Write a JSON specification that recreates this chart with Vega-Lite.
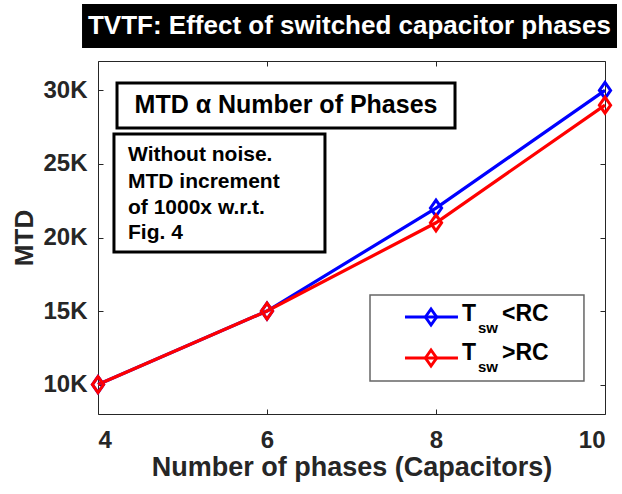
{
  "$schema": "https://vega.github.io/schema/vega-lite/v6.json",
  "width": 507,
  "height": 353,
  "autosize": {"type": "none"},
  "padding": {"left": 98, "top": 61, "right": 17, "bottom": 80},
  "background": "white",
  "config": {
    "view": {"stroke": null},
    "axis": {
      "grid": false,
      "domainColor": "#262626",
      "domainWidth": 1,
      "tickColor": "#262626",
      "tickWidth": 1,
      "labelColor": "#262626",
      "titleColor": "#262626",
      "labelFont": "Liberation Sans",
      "titleFont": "Liberation Sans",
      "labelFontWeight": "bold",
      "titleFontWeight": "bold",
      "labelFontSize": 24,
      "titleFontSize": 26
    }
  },
  "datasets": {
    "main": [
      {"phases": 4, "MTD": 10000, "series": "Tsw<RC"},
      {"phases": 6, "MTD": 15000, "series": "Tsw<RC"},
      {"phases": 8, "MTD": 22000, "series": "Tsw<RC"},
      {"phases": 10, "MTD": 30000, "series": "Tsw<RC"},
      {"phases": 4, "MTD": 10000, "series": "Tsw>RC"},
      {"phases": 6, "MTD": 15000, "series": "Tsw>RC"},
      {"phases": 8, "MTD": 21000, "series": "Tsw>RC"},
      {"phases": 10, "MTD": 29000, "series": "Tsw>RC"}
    ],
    "boxes": [
      {"box": "title", "x": 3.811, "x2": 10.142, "y": 35875, "y2": 32884},
      {"box": "mtd", "x": 4.225, "x2": 8.225, "y": 30504, "y2": 27445},
      {"box": "note", "x": 4.189, "x2": 6.686, "y": 27037, "y2": 19014},
      {"box": "legend", "x": 7.219, "x2": 9.751, "y": 16090, "y2": 10243}
    ],
    "labels": [
      {"box": "title", "t": "TVTF: Effect of switched capacitor phases", "x": 6.976, "y": 34380},
      {"box": "mtd", "t": "MTD α Number of Phases", "x": 6.225, "y": 29008}
    ],
    "note": [
      {"t": "Without noise.", "x": 4.355, "y": 25609},
      {"t": "MTD increment", "x": 4.355, "y": 23773},
      {"t": "of 1000x w.r.t.", "x": 4.355, "y": 22005},
      {"t": "Fig. 4", "x": 4.355, "y": 20306}
    ],
    "legendRows": [
      {"series": "Tsw<RC", "x": 7.633, "x2": 8.26, "xm": 7.941, "y": 14595},
      {"series": "Tsw>RC", "x": 7.633, "x2": 8.26, "xm": 7.941, "y": 11807}
    ],
    "legendText": [
      {"t": "T", "part": "main", "x": 8.308, "y": 14798},
      {"t": "sw", "part": "sub", "x": 8.497, "y": 14798},
      {"t": "<RC", "part": "main", "x": 8.781, "y": 14798},
      {"t": "T", "part": "main", "x": 8.308, "y": 12147},
      {"t": "sw", "part": "sub", "x": 8.497, "y": 12147},
      {"t": ">RC", "part": "main", "x": 8.781, "y": 12147}
    ]
  },
  "resolve": {"axis": {"x": "independent", "y": "independent"}},
  "layer": [
    {
      "data": {"name": "main"},
      "mark": {"type": "line", "strokeWidth": 3.2},
      "encoding": {
        "x": {"field": "phases", "type": "quantitative",
          "scale": {"domain": [4, 10], "nice": false, "zero": false},
          "axis": {"orient": "bottom", "values": [4, 6, 8, 10], "title": "Number of phases (Capacitors)", "titleFontSize": 27, "tickSize": -5, "labelPadding": 19, "titlePadding": 2}},
        "y": {"field": "MTD", "type": "quantitative",
          "scale": {"domain": [8000, 32000], "nice": false, "zero": false},
          "axis": {"orient": "left", "values": [10000, 15000, 20000, 25000, 30000], "labelExpr": "datum.value/1000 + 'K'", "title": "MTD", "tickSize": -5, "labelPadding": 16, "titlePadding": 5}},
        "color": {"field": "series", "type": "nominal",
          "scale": {"domain": ["Tsw<RC", "Tsw>RC"], "range": ["#0000ff", "#ff0000"]}, "legend": null}
      }
    },
    {
      "data": {"name": "main"},
      "mark": {"type": "point", "shape": "M-0.7,0L0,-1L0.7,0L0,1Z", "filled": false, "size": 256, "strokeWidth": 3, "opacity": 1},
      "encoding": {
        "x": {"field": "phases", "type": "quantitative", "scale": {"domain": [4, 10], "nice": false, "zero": false},
          "axis": {"orient": "top", "values": [4, 6, 8, 10], "labels": false, "title": null, "tickSize": -5}},
        "y": {"field": "MTD", "type": "quantitative", "scale": {"domain": [8000, 32000], "nice": false, "zero": false},
          "axis": {"orient": "right", "values": [10000, 15000, 20000, 25000, 30000], "labels": false, "title": null, "tickSize": -5}},
        "color": {"field": "series", "type": "nominal", "legend": null}
      }
    },
    {
      "data": {"name": "boxes"},
      "transform": [{"filter": "datum.box === 'title'"}],
      "mark": {"type": "rect", "fill": "black"},
      "encoding": {
        "x": {"field": "x", "type": "quantitative", "axis": null, "scale": {"domain": [4, 10], "nice": false, "zero": false}},
        "x2": {"field": "x2"},
        "y": {"field": "y", "type": "quantitative", "axis": null, "scale": {"domain": [8000, 32000], "nice": false, "zero": false}},
        "y2": {"field": "y2"}
      }
    },
    {
      "data": {"name": "boxes"},
      "transform": [{"filter": "datum.box === 'mtd' || datum.box === 'note'"}],
      "mark": {"type": "rect", "fill": "white", "stroke": "black", "strokeWidth": 3},
      "encoding": {
        "x": {"field": "x", "type": "quantitative", "axis": null, "scale": {"domain": [4, 10], "nice": false, "zero": false}},
        "x2": {"field": "x2"},
        "y": {"field": "y", "type": "quantitative", "axis": null, "scale": {"domain": [8000, 32000], "nice": false, "zero": false}},
        "y2": {"field": "y2"}
      }
    },
    {
      "data": {"name": "boxes"},
      "transform": [{"filter": "datum.box === 'legend'"}],
      "mark": {"type": "rect", "fill": "white", "stroke": "#666666", "strokeWidth": 1.5},
      "encoding": {
        "x": {"field": "x", "type": "quantitative", "axis": null, "scale": {"domain": [4, 10], "nice": false, "zero": false}},
        "x2": {"field": "x2"},
        "y": {"field": "y", "type": "quantitative", "axis": null, "scale": {"domain": [8000, 32000], "nice": false, "zero": false}},
        "y2": {"field": "y2"}
      }
    },
    {
      "data": {"name": "labels"},
      "transform": [{"filter": "datum.box === 'title'"}],
      "mark": {"type": "text", "font": "Liberation Sans", "fontWeight": "bold", "fontSize": 26, "color": "white", "align": "center", "baseline": "middle"},
      "encoding": {
        "x": {"field": "x", "type": "quantitative", "axis": null, "scale": {"domain": [4, 10], "nice": false, "zero": false}},
        "y": {"field": "y", "type": "quantitative", "axis": null, "scale": {"domain": [8000, 32000], "nice": false, "zero": false}},
        "text": {"field": "t"}
      }
    },
    {
      "data": {"name": "labels"},
      "transform": [{"filter": "datum.box === 'mtd'"}],
      "mark": {"type": "text", "font": "Liberation Sans", "fontWeight": "bold", "fontSize": 25, "color": "black", "align": "center", "baseline": "middle"},
      "encoding": {
        "x": {"field": "x", "type": "quantitative", "axis": null, "scale": {"domain": [4, 10], "nice": false, "zero": false}},
        "y": {"field": "y", "type": "quantitative", "axis": null, "scale": {"domain": [8000, 32000], "nice": false, "zero": false}},
        "text": {"field": "t"}
      }
    },
    {
      "data": {"name": "note"},
      "mark": {"type": "text", "font": "Liberation Sans", "fontWeight": "bold", "fontSize": 21, "color": "black", "align": "left", "baseline": "middle"},
      "encoding": {
        "x": {"field": "x", "type": "quantitative", "axis": null, "scale": {"domain": [4, 10], "nice": false, "zero": false}},
        "y": {"field": "y", "type": "quantitative", "axis": null, "scale": {"domain": [8000, 32000], "nice": false, "zero": false}},
        "text": {"field": "t"}
      }
    },
    {
      "data": {"name": "legendRows"},
      "mark": {"type": "rule", "strokeWidth": 3},
      "encoding": {
        "x": {"field": "x", "type": "quantitative", "axis": null, "scale": {"domain": [4, 10], "nice": false, "zero": false}},
        "x2": {"field": "x2"},
        "y": {"field": "y", "type": "quantitative", "axis": null, "scale": {"domain": [8000, 32000], "nice": false, "zero": false}},
        "color": {"field": "series", "type": "nominal", "legend": null}
      }
    },
    {
      "data": {"name": "legendRows"},
      "mark": {"type": "point", "shape": "M-0.7,0L0,-1L0.7,0L0,1Z", "filled": false, "size": 256, "strokeWidth": 3, "opacity": 1},
      "encoding": {
        "x": {"field": "xm", "type": "quantitative", "axis": null, "scale": {"domain": [4, 10], "nice": false, "zero": false}},
        "y": {"field": "y", "type": "quantitative", "axis": null, "scale": {"domain": [8000, 32000], "nice": false, "zero": false}},
        "color": {"field": "series", "type": "nominal", "legend": null}
      }
    },
    {
      "data": {"name": "legendText"},
      "transform": [{"filter": "datum.part === 'main'"}],
      "mark": {"type": "text", "font": "Liberation Sans", "fontWeight": "bold", "fontSize": 23, "color": "black", "align": "left", "baseline": "middle"},
      "encoding": {
        "x": {"field": "x", "type": "quantitative", "axis": null, "scale": {"domain": [4, 10], "nice": false, "zero": false}},
        "y": {"field": "y", "type": "quantitative", "axis": null, "scale": {"domain": [8000, 32000], "nice": false, "zero": false}},
        "text": {"field": "t"}
      }
    },
    {
      "data": {"name": "legendText"},
      "transform": [{"filter": "datum.part === 'sub'"}],
      "mark": {"type": "text", "font": "Liberation Sans", "fontWeight": "bold", "fontSize": 15, "color": "black", "align": "left", "baseline": "middle", "dy": 14},
      "encoding": {
        "x": {"field": "x", "type": "quantitative", "axis": null, "scale": {"domain": [4, 10], "nice": false, "zero": false}},
        "y": {"field": "y", "type": "quantitative", "axis": null, "scale": {"domain": [8000, 32000], "nice": false, "zero": false}},
        "text": {"field": "t"}
      }
    }
  ]
}
